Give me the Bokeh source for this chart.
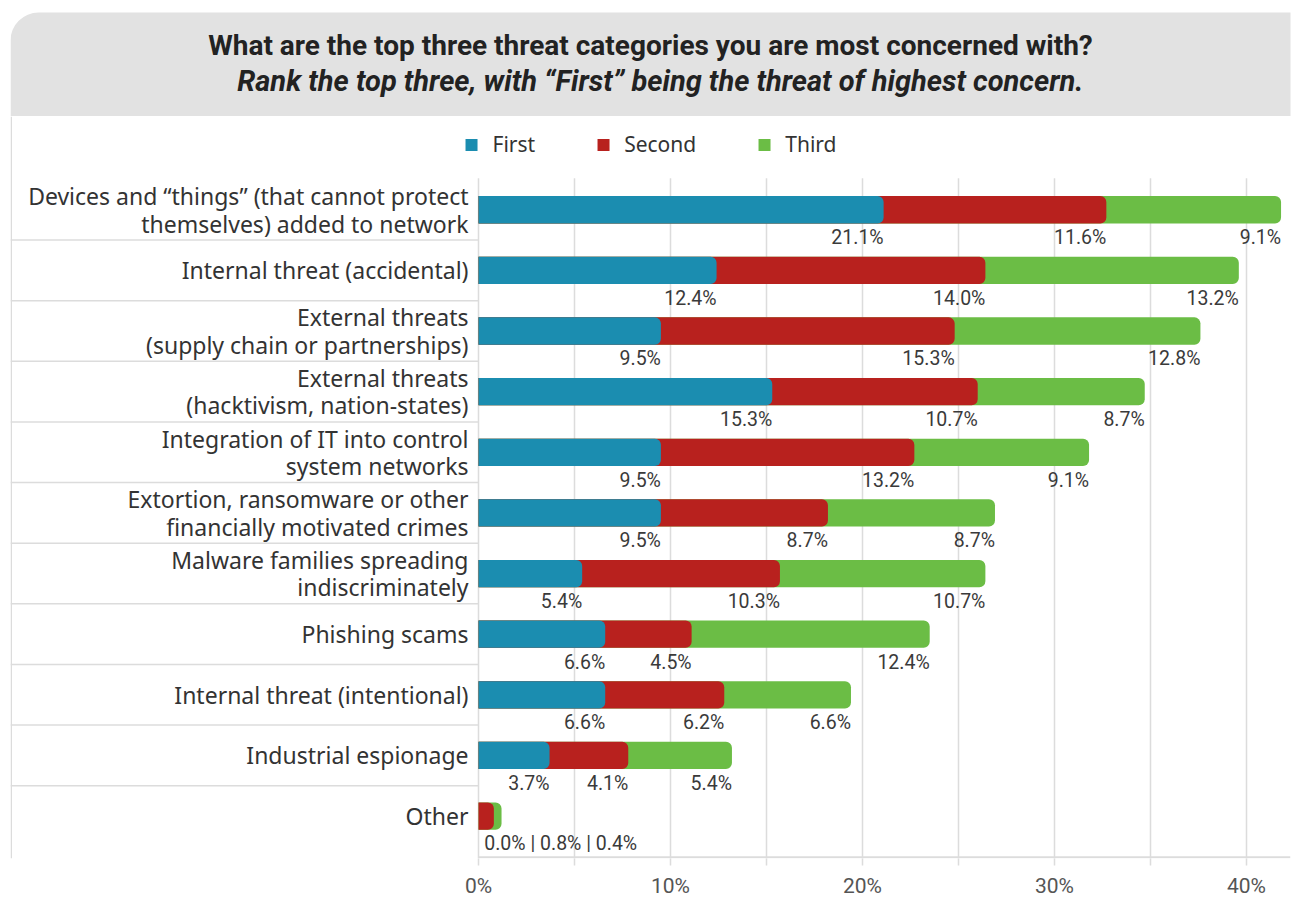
from bokeh.plotting import figure
from bokeh.models import Range1d, FixedTicker, Legend, LegendItem, ColumnDataSource
from bokeh.layouts import column
from bokeh.embed import file_html
from bokeh.resources import INLINE
from bokeh.core.properties import value

TITLE = "What are the top three threat categories you are most concerned with?"
SUBTITLE = "Rank the top three, with \u201cFirst\u201d being the threat of highest concern."

categories = [
    "Devices and \u201cthings\u201d (that cannot protect\nthemselves) added to network",
    "Internal threat (accidental)",
    "External threats\n(supply chain or partnerships)",
    "External threats\n(hacktivism, nation-states)",
    "Integration of IT into control\nsystem networks",
    "Extortion, ransomware or other\nfinancially motivated crimes",
    "Malware families spreading\nindiscriminately",
    "Phishing scams",
    "Internal threat (intentional)",
    "Industrial espionage",
    "Other",
]
first = [21.1, 12.4, 9.5, 15.3, 9.5, 9.5, 5.4, 6.6, 6.6, 3.7, 0.0]
second = [11.6, 14.0, 15.3, 10.7, 13.2, 8.7, 10.3, 4.5, 6.2, 4.1, 0.8]
third = [9.1, 13.2, 12.8, 8.7, 9.1, 8.7, 10.7, 12.4, 6.6, 5.4, 0.4]
series = ["First", "Second", "Third"]
colors = ["#1b8db0", "#b8211e", "#6bbd45"]
x_ticks = [0, 10, 20, 30, 40]
grid_ticks = [0, 5, 10, 15, 20, 25, 30, 35, 40]

W = 1300
VAL_FONT_NAME = "Roboto"
VAL_FONT = value(VAL_FONT_NAME)
GRID = "#dcdcdc"

# ---------------- header ----------------
HH = 116
hdr = figure(width=W, height=HH, x_range=Range1d(0, W), y_range=Range1d(0, HH),
             x_axis_type=None, y_axis_type=None, output_backend="svg",
             toolbar_location=None, min_border=0)
hdr.grid.visible = False
hdr.outline_line_color = None
hdr.quad(left=[0], right=[W + 30], bottom=[-10], top=[HH - 12],
         fill_color="#e2e2e2", line_color=None, border_radius=(28, 0, 0, 0))
hdr.text(x=[650], y=[HH - 45], text=[TITLE], text_font=value("Roboto"),
         text_font_style="bold", text_font_size="28px", text_align="center",
         text_baseline="middle", text_color="#222222")
hdr.text(x=[660], y=[HH - 80], text=[SUBTITLE], text_font=value("Roboto"),
         text_font_style="bold italic", text_font_size="29px", text_align="center",
         text_baseline="middle", text_color="#222222")

# ---------------- main chart ----------------
n = len(categories)
XL = -24.375
XR = XL + 1280 / 19.2
YT = -1.538
YB = n - 0.3

p = figure(width=W, height=784, x_range=Range1d(XL, XR), y_range=Range1d(YB, YT),
           y_axis_type=None, output_backend="svg", toolbar_location=None,
           min_border_left=10, min_border_right=10, min_border_top=0,
           min_border_bottom=42)
p.outline_line_color = None
p.xgrid.visible = False
p.ygrid.visible = False

ax = p.xaxis[0]
ax.ticker = FixedTicker(ticks=grid_ticks)
ax.major_label_overrides = {t: (f"{t}%" if t in x_ticks else "") for t in grid_ticks}
ax.axis_line_color = None
ax.major_tick_line_color = GRID
ax.major_tick_line_width = 1.5
ax.major_tick_in = 0
ax.major_tick_out = 7
ax.minor_tick_line_color = None
ax.major_label_standoff = 8
ax.major_label_text_font = VAL_FONT_NAME
ax.major_label_text_font_size = "21px"
ax.major_label_text_color = "#555555"

# gridlines (from below the legend down to the axis)
p.segment(x0=grid_ticks, x1=grid_ticks, y0=[-0.52] * len(grid_ticks),
          y1=[YB] * len(grid_ticks), line_color=GRID, line_width=1.5)

ys = list(range(n))
c1 = first
c2 = [a + b for a, b in zip(first, second)]
c3 = [a + b + c for a, b, c in zip(first, second, third)]
src = ColumnDataSource(dict(y=ys, c1=c1, c2=c2, c3=c3))

BH = 0.45
r3 = p.hbar(y="y", left=0, right="c3", height=BH, source=src, fill_color=colors[2],
            line_color=None, border_radius=(0, 6, 6, 0))
r2 = p.hbar(y="y", left=0, right="c2", height=BH, source=src, fill_color=colors[1],
            line_color=None, border_radius=(0, 6, 6, 0))
r1 = p.hbar(y="y", left=0, right="c1", height=BH, source=src, fill_color=colors[0],
            line_color=None, border_radius=(0, 6, 6, 0))

# separators in label area + axis line + left border
sep_y = [k + 0.5 for k in range(n - 1)]
p.segment(x0=[XL] * len(sep_y), x1=[0] * len(sep_y), y0=sep_y, y1=sep_y,
          line_color=GRID, line_width=1.5)
p.segment(x0=[0], x1=[XR], y0=[YB - 0.02], y1=[YB - 0.02], line_color=GRID, line_width=2)
p.segment(x0=[XL + 0.04], x1=[XL + 0.04], y0=[YT], y1=[YB], line_color=GRID, line_width=1.5)

# category labels
p.text(x=[-0.52] * n, y=ys, text=categories, text_align="right", text_baseline="middle",
       text_font=value("Noto Sans"), text_font_size="23px", text_color="#333333",
       text_line_height=0.86)

# value labels
lx, ly, lt, sx, sy, st = [], [], [], [], [], []
for i in range(n):
    vals = [first[i], second[i], third[i]]
    ends = [c1[i], c2[i], c3[i]]
    if min(vals) < 1.0:
        sx.append(0.3)
        sy.append(i + 0.46)
        st.append(" | ".join(f"{v:.1f}%" for v in vals))
    else:
        for v, e in zip(vals, ends):
            lx.append(e)
            ly.append(i + 0.46)
            lt.append(f"{v:.1f}%")
p.text(x=lx, y=ly, text=lt, text_align="right", text_baseline="middle",
       text_font=VAL_FONT, text_font_size="19.5px", text_color="#3a3a3a")
p.text(x=sx, y=sy, text=st, text_align="left", text_baseline="middle",
       text_font=VAL_FONT, text_font_size="19.5px", text_color="#3a3a3a")

legend = Legend(items=[LegendItem(label=series[0], renderers=[r1]),
                       LegendItem(label=series[1], renderers=[r2]),
                       LegendItem(label=series[2], renderers=[r3])],
                orientation="horizontal", location="top_center",
                glyph_width=15, glyph_height=15, label_standoff=14, spacing=60,
                label_text_font="Noto Sans", label_text_font_size="21px",
                label_text_color="#333333", border_line_color=None,
                background_fill_alpha=0, margin=14, padding=9)
p.add_layout(legend, "center")

layout = column(hdr, p, spacing=0)
open("out.html", "w").write(file_html(layout, INLINE))
